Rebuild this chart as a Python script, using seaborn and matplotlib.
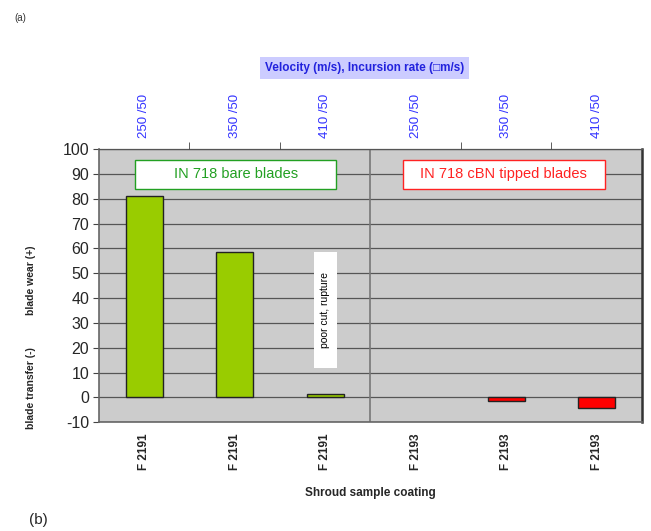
import matplotlib
matplotlib.use("Agg")
import matplotlib.pyplot as plt
import seaborn as sns
import pandas as pd

sns.set_style("white")
plt.rcParams['font.family'] = ['Liberation Sans', 'DejaVu Sans']
plt.rcParams['axes.unicode_minus'] = False

# data
bar_ids = ["b1", "b2", "b3", "b4", "b5", "b6"]
coating_labels = ["F 2191", "F 2191", "F 2191", "F 2193", "F 2193", "F 2193"]
speed_labels = ["250 /50", "350 /50", "410 /50", "250 /50", "350 /50", "410 /50"]
blade_type = ["bare", "bare", "bare", "cbn", "cbn", "cbn"]
wear_values = [81, 58.5, 1.5, 0, -1.5, -4.2]

df = pd.DataFrame({"bar": bar_ids, "wear": wear_values, "type": blade_type})
palette = {"bare": "#99cc00", "cbn": "#ff0000"}

fig = plt.figure(figsize=(6.51, 5.31), dpi=100)
ax = fig.add_axes([0.152, 0.205, 0.834, 0.514])
ax.set_facecolor("#cccccc")

sns.barplot(data=df, x="bar", y="wear", hue="type", palette=palette,
            dodge=False, width=0.41, edgecolor="#222222", linewidth=1.0,
            saturation=1, legend=False, ax=ax, zorder=3)
# a zero-height bar shows nothing in the original
for p in ax.patches:
    if p.get_height() == 0:
        p.set_linewidth(0)

ax.set_xlim(-0.5, 5.5)
ax.set_ylim(-10, 100)
ax.set_yticks(range(-10, 101, 10))
ax.tick_params(axis="y", labelsize=11.5, length=4, direction="out",
               color="#444444", pad=3, left=True)
ax.yaxis.grid(True, color="#555555", linewidth=0.9, zorder=1)
ax.set_axisbelow(True)
ax.set_ylabel("")

ax.set_xticks(range(len(coating_labels)))
ax.set_xticklabels(coating_labels, rotation=90, fontsize=8.5, fontweight="bold")
ax.tick_params(axis="x", length=0, pad=8)
ax.set_xlabel("Shroud sample coating", fontsize=8.5, fontweight="bold", labelpad=12)

# separator between the two blade groups
ax.axvline(2.5, color="#777777", linewidth=1.2, zorder=2)

for side in ["left", "bottom"]:
    ax.spines[side].set_color("#666666")
    ax.spines[side].set_linewidth(1.2)
ax.spines["right"].set_color("#333333")
ax.spines["right"].set_linewidth(1.8)
ax.spines["top"].set_color("#555555")
ax.spines["top"].set_linewidth(0.9)

# top axis with speed / incursion labels
top = ax.twiny()
top.set_xlim(ax.get_xlim())
top.set_xticks(range(len(speed_labels)))
top.set_xticklabels(speed_labels, rotation=90, fontsize=9.5, color="#3333ff")
top.tick_params(axis="x", length=0, pad=8)
top.set_xticks([0.5, 1.5, 3.5, 4.5], minor=True)
top.tick_params(axis="x", which="minor", length=5, direction="out", color="#444444")
for s in top.spines.values():
    s.set_visible(False)

fig.text(0.560, 0.872, "Velocity (m/s), Incursion rate (\u25a1m/s)", ha="center",
         va="center", fontsize=8.5, fontweight="bold", color="#2222dd",
         bbox=dict(facecolor="#ccccff", edgecolor="none", boxstyle="square,pad=0.4"))

# group label boxes
ax.add_patch(plt.Rectangle((-0.10, 84.1), 2.22, 11.7, facecolor="white",
                           edgecolor="#22a022", linewidth=1.0, zorder=5))
ax.text(1.01, 90, "IN 718 bare blades", ha="center", va="center",
        fontsize=10.5, color="#22a022", zorder=6)
ax.add_patch(plt.Rectangle((2.86, 84.1), 2.23, 11.7, facecolor="white",
                           edgecolor="#ff2222", linewidth=1.0, zorder=5))
ax.text(3.975, 90, "IN 718 cBN tipped blades", ha="center", va="center",
        fontsize=10.5, color="#ff2222", zorder=6)

ax.add_patch(plt.Rectangle((1.876, 11.9), 0.254, 46.8, facecolor="white",
                           edgecolor="none", zorder=5))
ax.text(2.003, 35.3, "poor cut, rupture", rotation=90, ha="center", va="center",
        fontsize=7.5, color="black", zorder=6)

fig.text(0.047, 0.473, "blade wear (+)", rotation=90, ha="center", va="center",
         fontsize=7.5, fontweight="bold")
fig.text(0.047, 0.27, "blade transfer (-)", rotation=90, ha="center", va="center",
         fontsize=7.5, fontweight="bold")

fig.text(0.022, 0.967, "(a)", ha="left", va="center", fontsize=7, color="#333333")
fig.text(0.045, 0.02, "(b)", ha="left", va="center", fontsize=11)

fig.savefig("out.png", dpi=100)
